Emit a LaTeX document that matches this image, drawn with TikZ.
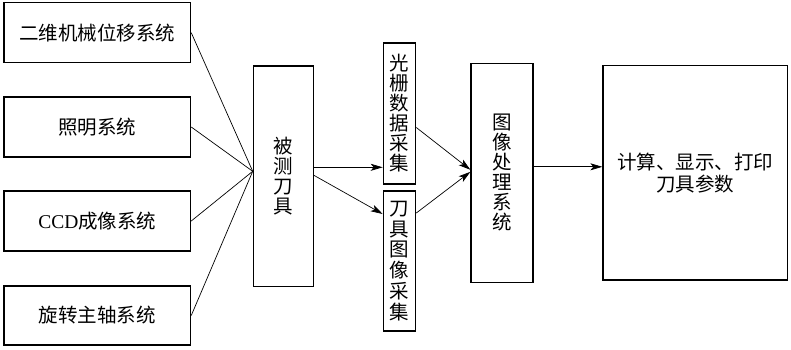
\documentclass[tikz,border=0pt]{standalone}
\usepackage{fontspec}
\setmainfont{Liberation Serif}
\newfontfamily\cjk{Noto Sans CJK SC}
\newfontfamily\lat{Liberation Serif}
\usetikzlibrary{positioning, arrows.meta, calc}

\begin{document}
\begin{tikzpicture}[
    x=1pt, y=-1pt,
    >={Stealth[length=12pt, width=7pt, inset=3pt]},
    font=\cjk\fontsize{19.5}{20}\selectfont,
    sbox/.style={draw, line width=1.2pt, minimum width=186.7pt,
                 minimum height=60pt, inner sep=0pt, align=center},
    colbox/.style={draw, line width=1.2pt, inner sep=0pt, align=center},
    link/.style={line width=0.7pt},
]
  \useasboundingbox (0,0) rectangle (791,349);
  % Left: four subsystems
  \node[sbox] (b1) at (97.3,32.7) {二维机械位移系统};
  \node[sbox] (b2) at (97.3,127) {照明系统};
  \node[sbox] (b3) at (97.3,221) {{\lat CCD}成像系统};
  \node[sbox, minimum height=59pt] (b4) at (97.3,315.5) {旋转主轴系统};
  % Tool under test
  \node[colbox, minimum width=60pt, minimum height=220.7pt] (tool) at (283.3,176.3)
       {被\\测\\刀\\具};
  % Acquisition
  \node[colbox, minimum width=32.4pt, minimum height=141pt] (grat) at (399.5,113.5)
       {光\\栅\\数\\据\\采\\集};
  \node[colbox, minimum width=32.4pt, minimum height=140pt,
        font=\cjk\fontsize{19.5}{20.8}\selectfont] (img) at (399.5,261)
       {刀\\具\\图\\像\\采\\集};
  % Processing
  \node[colbox, minimum width=62pt, minimum height=219pt] (proc) at (502,172.8)
       {图\\像\\处\\理\\系\\统};
  % Output
  \node[colbox, minimum width=184.7pt, minimum height=214.3pt,
        font=\cjk\fontsize{19.5}{22.3}\selectfont] (calc) at (695.3,172.8)
       {计算、显示、打印\\刀具参数};
  % Subsystems to tool
  \coordinate (hub) at ([yshift=5pt]tool.west);
  \foreach \b in {b1,b2,b3,b4}
    \draw[link] (\b.east) -- (hub);
  % Tool to acquisition
  \draw[link,->] ([yshift=9pt]tool.east) -- ([yshift=9pt]tool.east -| grat.west);
  \draw[link,->] ([yshift=1pt]tool.east) -- ([yshift=47pt]img.west);
  % Acquisition to processing
  \draw[link,->] ([yshift=-14pt]grat.east) -- ([yshift=3pt]proc.west);
  \draw[link,->] ([yshift=48pt]img.east) -- ([yshift=1pt]proc.west);
  % Processing to output
  \draw[link,->] ([yshift=6pt]proc.east) -- ([yshift=6pt]proc.east -| calc.west);
\end{tikzpicture}
\end{document}
